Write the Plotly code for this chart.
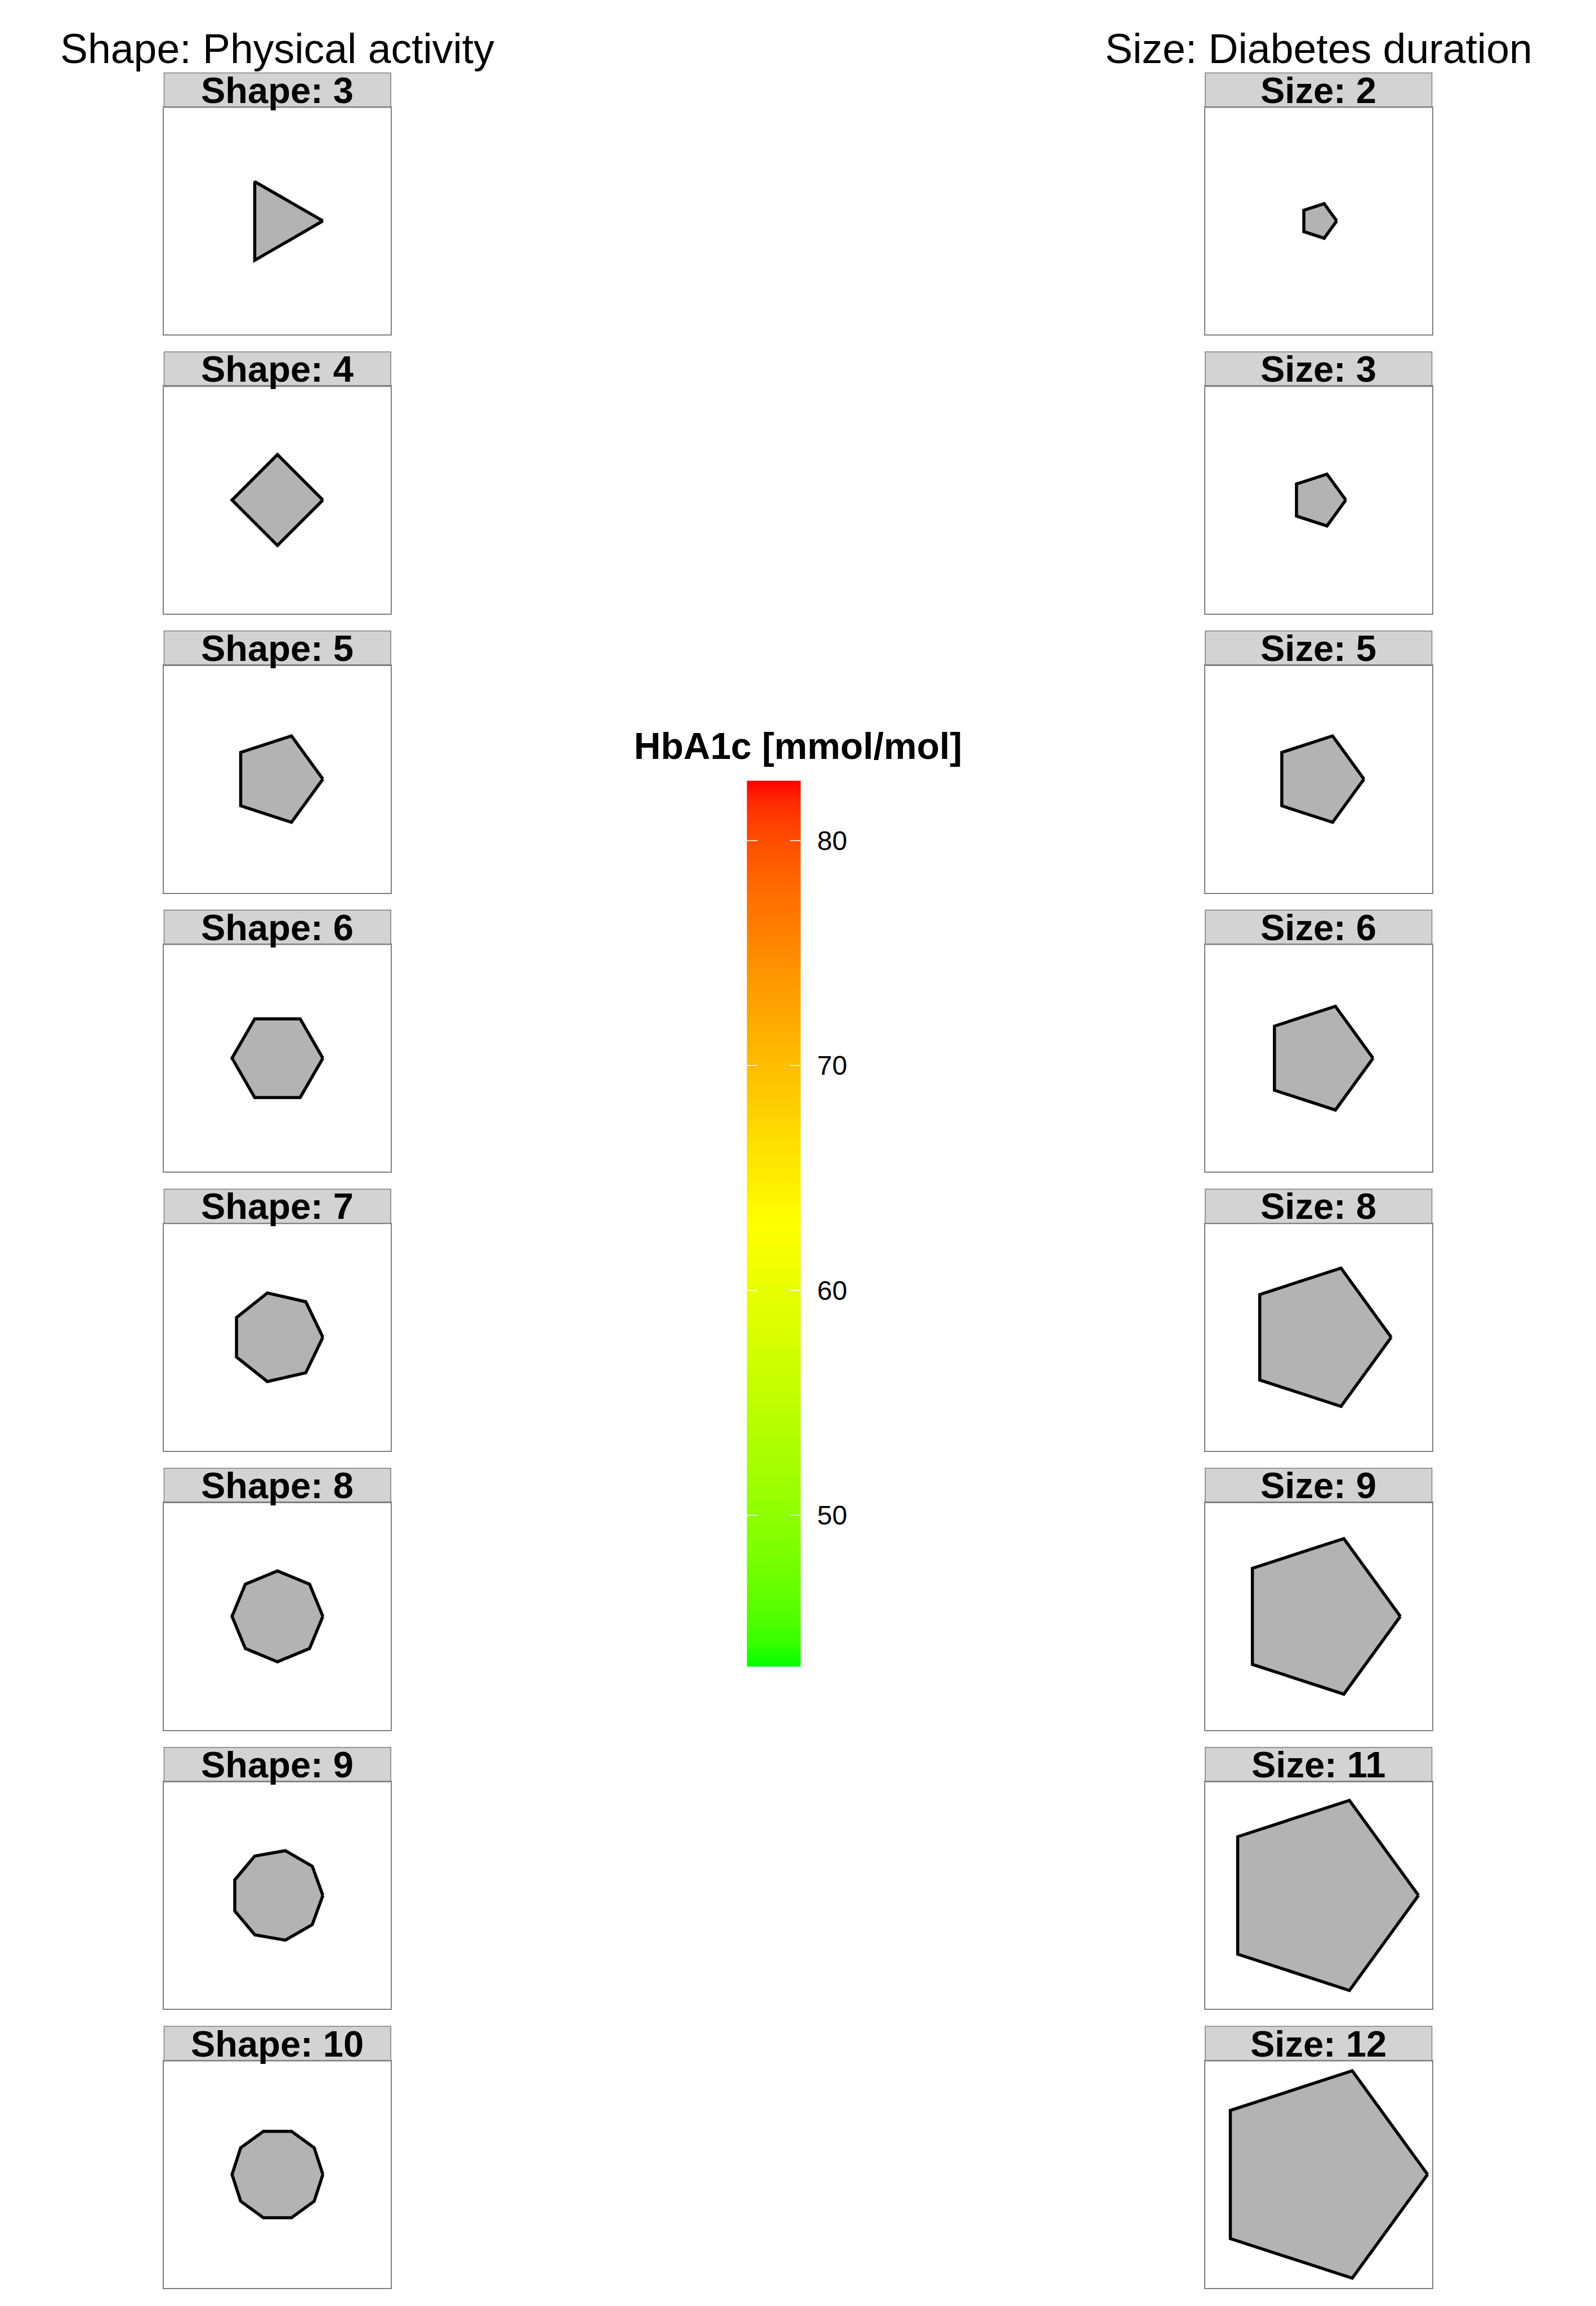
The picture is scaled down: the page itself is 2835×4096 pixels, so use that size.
import numpy as np
import plotly.graph_objects as go

# ---------------- data ----------------
shape_sides = [3, 4, 5, 6, 7, 8, 9, 10]          # left column: number of polygon sides
shape_fixed_size = 5                             # size used in the shape panels
size_values = [2, 3, 5, 6, 8, 9, 11, 12]         # right column: symbol sizes
size_fixed_sides = 5                             # polygon used in size panels
shape_labels = [f"Shape: {n}" for n in shape_sides]
size_labels = [f"Size: {v}" for v in size_values]
hba1c_limits = [43.27, 82.67]
hba1c_ticks = [50, 60, 70, 80]
gradient_colours = ["#00FF00", "#FFFF00", "#FF0000"]
left_title = "Shape: Physical activity"
right_title = "Size: Diabetes duration"
legend_title = "HbA1c [mmol/mol]"

# ---------------- layout geometry (output px) ----------------
W, H = 2835, 4096
S = W / 4251.0
FONT = "Liberation Sans, Arial, sans-serif"

col_x = [(437 * S, 1041 * S), (3210 * S, 3814 * S)]
pitch = 743.3 * S
strip_top0 = 194 * S
panel_top0 = 286 * S
panel_bot0 = 891 * S
unit_px = 24.2 * S   # pixels per size unit


def px_x(v):
    return v / W


def px_y(v):
    return 1 - v / H


def axn(letter, idx):
    return letter if idx == 1 else f"{letter}{idx}"


def srgb_to_lab(hexc):
    c = np.array([int(hexc[i:i + 2], 16) for i in (1, 3, 5)]) / 255.0
    lin = np.where(c <= 0.04045, c / 12.92, ((c + 0.055) / 1.055) ** 2.4)
    M = np.array([[0.4124564, 0.3575761, 0.1804375],
                  [0.2126729, 0.7151522, 0.0721750],
                  [0.0193339, 0.1191920, 0.9503041]])
    xyz = M @ lin / np.array([0.95047, 1.0, 1.08883])
    d = 6 / 29
    f = np.where(xyz > d ** 3, np.cbrt(xyz), xyz / (3 * d * d) + 4 / 29)
    return np.array([116 * f[1] - 16, 500 * (f[0] - f[1]), 200 * (f[1] - f[2])])


def lab_to_srgb(lab):
    L, a, b = lab
    fy = (L + 16) / 116
    fx = fy + a / 500
    fz = fy - b / 200
    d = 6 / 29
    f = np.array([fx, fy, fz])
    xyz = np.where(f > d, f ** 3, 3 * d * d * (f - 4 / 29)) * np.array([0.95047, 1.0, 1.08883])
    Minv = np.array([[3.2404542, -1.5371385, -0.4985314],
                     [-0.9692660, 1.8760108, 0.0415560],
                     [0.0556434, -0.2040259, 1.0572252]])
    lin = np.clip(Minv @ xyz, 0, 1)
    c = np.where(lin <= 0.0031308, 12.92 * lin, 1.055 * lin ** (1 / 2.4) - 0.055)
    c = np.clip(np.round(c * 255), 0, 255).astype(int)
    return "rgb(%d,%d,%d)" % tuple(c)


labs = [srgb_to_lab(c) for c in gradient_colours]
colorscale = []
nstop = 40
for k in range(nstop + 1):
    t = k / nstop
    seg = min(int(t * (len(labs) - 1)), len(labs) - 2)
    lt = t * (len(labs) - 1) - seg
    colorscale.append([t, lab_to_srgb(labs[seg] * (1 - lt) + labs[seg + 1] * lt)])

fig = go.Figure()
layout = dict(width=W, height=H, margin=dict(l=0, r=0, t=0, b=0, pad=0),
              paper_bgcolor="white", plot_bgcolor="white", showlegend=False,
              font=dict(family=FONT, color="black"))
shapes = []
annotations = []

panels = []
for i, n in enumerate(shape_sides):
    panels.append((0, i, n, shape_fixed_size, shape_labels[i]))
for i, v in enumerate(size_values):
    panels.append((1, i, size_fixed_sides, v, size_labels[i]))

for idx, (col, row, sides, size, label) in enumerate(panels, start=1):
    xn, yn = axn("x", idx), axn("y", idx)
    x0, x1 = col_x[col]
    top = panel_top0 + row * pitch
    bot = panel_bot0 + row * pitch
    stop = strip_top0 + row * pitch
    pw, ph = x1 - x0, bot - top
    hx = pw / 2 / unit_px
    hy = ph / 2 / unit_px
    ang = 2 * np.pi * np.arange(sides + 1) / sides
    fig.add_trace(go.Scatter(
        x=size * np.cos(ang), y=size * np.sin(ang), mode="lines",
        fill="toself", fillcolor="#B3B3B3",
        line=dict(color="black", width=5.5),
        xaxis=xn, yaxis=yn, hoverinfo="skip"))
    ax = dict(showgrid=False, zeroline=False, showticklabels=False, ticks="",
              showline=True, mirror=True, linecolor="#7F7F7F", linewidth=1.5,
              fixedrange=True)
    layout[xn.replace("x", "xaxis")] = dict(ax, domain=[px_x(x0), px_x(x1)],
                                            range=[-hx, hx], anchor=yn)
    layout[yn.replace("y", "yaxis")] = dict(ax, domain=[px_y(bot), px_y(top)],
                                            range=[-hy, hy], anchor=xn)
    sh = (top - stop) / ph
    shapes.append(dict(type="rect", xref=f"{xn} domain", yref=f"{yn} domain",
                       x0=0, x1=1, y0=1, y1=1 + sh, fillcolor="#D3D3D3",
                       line=dict(color="#7F7F7F", width=1.5), layer="below"))
    annotations.append(dict(text=f"<b>{label}</b>", xref=f"{xn} domain",
                            yref=f"{yn} domain", x=0.5, y=1 + sh / 2,
                            xanchor="center", yanchor="middle", showarrow=False,
                            font=dict(size=65, family=FONT, color="black")))

# column titles
for col, txt in enumerate([left_title, right_title]):
    cx = (col_x[col][0] + col_x[col][1]) / 2
    annotations.append(dict(text=txt, xref="paper", yref="paper", x=px_x(cx),
                            y=px_y(130.5 * S), xanchor="center", yanchor="middle",
                            showarrow=False, font=dict(size=73.4, family=FONT)))

# colour bar as a heatmap in its own axes
cb = 17
cxn, cyn = axn("x", cb), axn("y", cb)
N = 400
edges = np.linspace(hba1c_limits[0], hba1c_limits[1], N + 1)
mids = (edges[:-1] + edges[1:]) / 2
fig.add_trace(go.Heatmap(x=[0, 1], y=edges, z=mids.reshape(-1, 1),
                         colorscale=colorscale, zmin=hba1c_limits[0],
                         zmax=hba1c_limits[1], showscale=False,
                         xaxis=cxn, yaxis=cyn, hoverinfo="skip"))
cb_x0, cb_x1 = 1989 * S, 2133 * S
cb_top, cb_bot = 2079 * S, 4439 * S
layout[f"xaxis{cb}"] = dict(domain=[px_x(cb_x0), px_x(cb_x1)], range=[0, 1],
                            visible=False, anchor=cyn, fixedrange=True)
layout[f"yaxis{cb}"] = dict(domain=[px_y(cb_bot), px_y(cb_top)], range=hba1c_limits,
                            anchor=cxn, side="right", tickvals=hba1c_ticks,
                            ticks="", showgrid=False, zeroline=False, showline=False,
                            ticklabelstandoff=28, tickfont=dict(size=48, family=FONT),
                            fixedrange=True)
for t in hba1c_ticks:
    for a, b in [(0, 0.2), (0.8, 1.0)]:
        shapes.append(dict(type="line", xref=cxn, yref=cyn, x0=a, x1=b,
                           y0=t, y1=t, line=dict(color="white", width=1.5)))
annotations.append(dict(text=f"<b>{legend_title}</b>", xref="paper", yref="paper",
                        x=px_x(2125.5 * S), y=px_y(1987 * S), xanchor="center",
                        yanchor="middle", showarrow=False,
                        font=dict(size=66, family=FONT)))

layout["shapes"] = shapes
layout["annotations"] = annotations
fig.update_layout(**layout)
fig.write_html("out.html")
